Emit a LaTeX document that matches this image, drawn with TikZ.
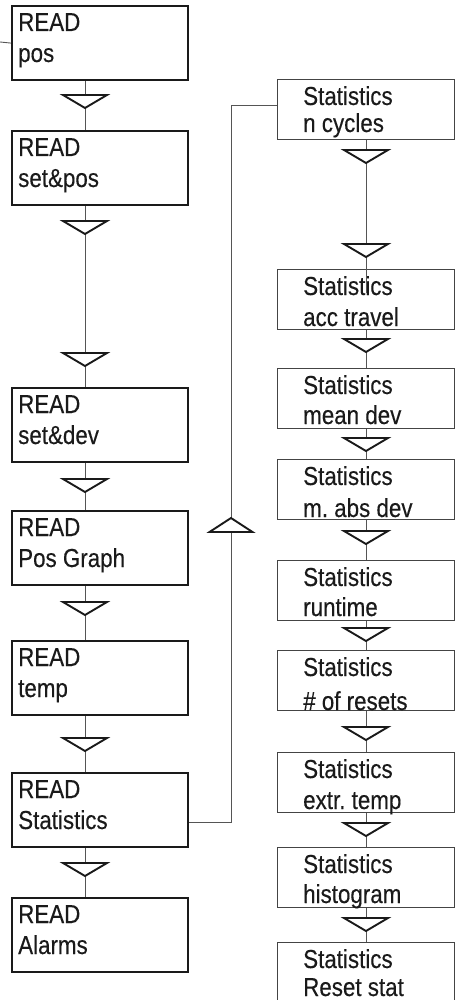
\documentclass[tikz,border=0pt]{standalone}
\usepackage{fontspec}
\newfontfamily\condsans[FakeStretch=0.86,FakeBold=0.3]{Liberation Sans}
\definecolor{ink}{HTML}{1A1A1A}
\definecolor{wire}{HTML}{555555}
\definecolor{frame}{HTML}{444444}

\tikzset{
  readbox/.style={draw=ink, line width=2.2pt, anchor=north west, inner sep=0pt,
                  minimum width=176pt, minimum height=74pt},
  statbox/.style={draw=frame, line width=1pt, anchor=north west, inner sep=0pt,
                  minimum width=177pt, minimum height=60pt},
  boxtext/.style={anchor=base west, inner sep=0pt, text=ink,
                  font=\condsans\frenchspacing\fontsize{26}{30}\selectfont},
  conn/.style={draw=wire, line width=0.9pt},
  flowmark/.style={draw=ink, line width=1.9pt, fill=white, line join=miter},
  pics/downmark/.style={code={\path[flowmark] (-22,0) -- (22,0) -- (0,13) -- cycle;}},
  pics/upmark/.style={code={\path[flowmark] (-21.5,14) -- (21.5,14) -- (0,0) -- cycle;}},
}

% box with two text lines; #1 style, #2 name, #3 left x, #4 top y, #5 text inset,
% #6 second baseline offset, #7/#8 lines
\newcommand\flowbox[8]{%
  \node[#1] (#2) at (#3,#4) {};
  \node[boxtext] (#2-a) at ([shift={(#5,26)}]#2.north west) {#7};
  \node[boxtext] (#2-b) at ([shift={(#5,#6)}]#2.north west) {#8};
}

\begin{document}
\begin{tikzpicture}[x=1pt, y=-1pt]
\useasboundingbox (0,0) rectangle (457,1000);
\begin{scope}
\clip (0,0) rectangle (457,1000);

% column axes
\coordinate (L) at (85,0);
\coordinate (R) at (366,0);
\coordinate (U) at (231,0);
\coordinate (entry) at (0,42);

% READ column
\flowbox{readbox}{pos}{11}{5}{7}{57}{READ}{pos}
\flowbox{readbox}{setpos}{11}{130}{7}{57}{READ}{set\&pos}
\flowbox{readbox}{setdev}{11}{387}{7}{57}{READ}{set\&dev}
\flowbox{readbox}{graph}{11}{510}{7}{57}{READ}{Pos Graph}
\flowbox{readbox}{temp}{11}{640}{7}{57}{READ}{temp}
\flowbox{readbox}{stat}{11}{772}{7}{57}{READ}{Statistics}
\flowbox{readbox}{alarms}{11}{897}{7}{57}{READ}{Alarms}

% Statistics column
\flowbox{statbox}{ncyc}{277}{79}{26}{53}{Statistics}{n cycles}
\flowbox{statbox}{acc}{277}{269}{26}{57}{Statistics}{acc travel}
\flowbox{statbox}{mean}{277}{368}{26}{56}{Statistics}{mean dev}
\flowbox{statbox}{mabs}{277}{459}{26}{58}{Statistics}{m. abs dev}
\flowbox{statbox}{run}{277}{560}{26}{56}{Statistics}{runtime}
\flowbox{statbox}{resets}{277}{650}{26}{60}{Statistics}{\# of resets}
\flowbox{statbox}{extr}{277}{752}{26}{57}{Statistics}{extr. temp}
\flowbox{statbox}{hist}{277}{847}{26}{56}{Statistics}{histogram}
\flowbox{statbox}{rstat}{277}{942}{26}{54}{Statistics}{Reset stat}

% connectors, READ column
\draw[conn] (entry) -- (pos.west);
\draw[conn] (pos.south -| L) -- (setpos.north -| L);
\draw[conn] (setpos.south -| L) -- (setdev.north -| L);
\draw[conn] (setdev.south -| L) -- (graph.north -| L);
\draw[conn] (graph.south -| L) -- (temp.north -| L);
\draw[conn] (temp.south -| L) -- (stat.north -| L);
\draw[conn] (stat.south -| L) -- (alarms.north -| L);

% branch into the Statistics column
\coordinate (statout) at ([yshift=-12.5pt]stat.east);
\coordinate (ncycin) at ([yshift=4pt]ncyc.west);
\draw[conn] (statout) -| (ncycin -| U) -- (ncycin);

% connectors, Statistics column
\coordinate (accin) at ([yshift=-24pt]acc.north);
\draw[conn] (ncyc.south -| R) -- (accin -| R);
\draw[conn] (acc.south -| R) -- (mean.north -| R);
\draw[conn] (mean.south -| R) -- (mabs.north -| R);
\draw[conn] (mabs.south -| R) -- (run.north -| R);
\draw[conn] (run.south -| R) -- (resets.north -| R);
\draw[conn] (resets.south -| R) -- (extr.north -| R);
\draw[conn] (extr.south -| R) -- (hist.north -| R);
\draw[conn] (hist.south -| R) -- (rstat.north -| R);

% flow direction marks
\foreach \y in {95,221,353,479,602,738,863} \pic at (85,\y) {downmark};
\foreach \y in {150,244,339,438,531,628,727,823,918} \pic at (366,\y) {downmark};
\pic at (231,518) {upmark};
\end{scope}
\end{tikzpicture}
\end{document}
